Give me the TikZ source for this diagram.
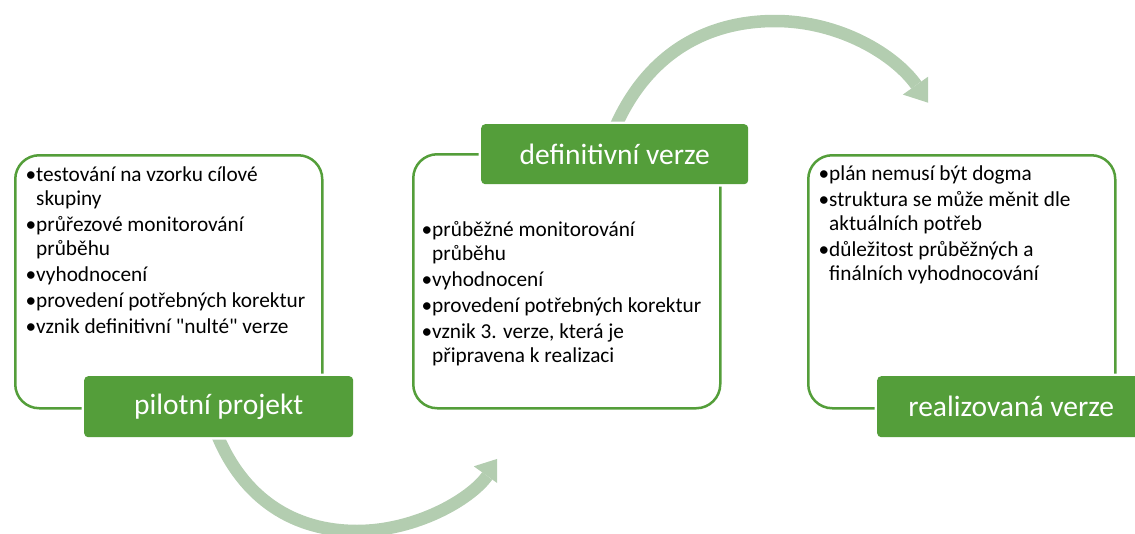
\documentclass[tikz,border=0pt]{standalone}
\usepackage{fontspec}
\setmainfont{Carlito}
\newfontfamily\qfont{Carlito}
\usetikzlibrary{arrows.meta}
\definecolor{grn}{RGB}{84,158,58}
\definecolor{lgrn}{RGB}{179,205,176}
\newcommand{\bul}{\makebox[7pt][l]{\hspace{-3.5pt}•}}
\newcommand{\sq}{{\qfont"}}
\begin{document}
\begin{tikzpicture}[x=1pt,y=-1pt,
  box/.style={draw=grn, line width=2.5pt, rounded corners=24pt, anchor=north west, inner sep=0pt},
  lab/.style={fill=grn, text=white, rounded corners=4pt, anchor=north west, inner sep=0pt,
    font=\fontsize{29.5}{35}\selectfont, preaction={draw=white, line width=5pt}},
  body/.style={anchor=north west, inner sep=0pt, font=\fontsize{21.3}{24}\selectfont, align=left},
  flow/.style={draw=lgrn, line width=12.5pt, -{Triangle[length=22pt,width=33pt,line width=0pt]}}]
\useasboundingbox (0,0) rectangle (1135,533);

% arrows (drawn first, labels cover their starts)
\coordinate (a1s) at (216,432);
\coordinate (a1e) at (500,458);
\coordinate (a2s) at (614,130);
\coordinate (a2e) at (929,103);
\begin{scope}
\clip (0,0) rectangle (497,533);
\draw[flow] (a1s) .. controls (243,500) and (295,531) .. (357,531) .. controls (415,531) and (470,500) .. (a1e);
\end{scope}
\begin{scope}
\clip (0,0) rectangle (928,533);
\draw[flow] (a2s) .. controls (646,55) and (705,21) .. (775,21) .. controls (840,21) and (895,55) .. (a2e);
\end{scope}

% boxes
\node[box, minimum width=307pt, minimum height=253pt] (box1) at (14,154) {};
\node[box, minimum width=307pt, minimum height=254pt] (box2) at (412,153) {};
\node[box, minimum width=307pt, minimum height=253pt] (box3) at (807,154) {};

% body texts
\node[body] (t1) at (29,164.2) {\begin{tabular}{@{}l@{}l@{}}
\bul & testování na vzorku cílové\\
 & skupiny\\[2pt]
\bul & průřezové monitorování\\
 & průběhu\\[2pt]
\bul & vyhodnocení\\[2pt]
\bul & provedení potřebných korektur\\[2pt]
\bul & vznik definitivní \sq nulté\sq{} verze
\end{tabular}};
\node[body] (t2) at (425,219.2) {\begin{tabular}{@{}l@{}l@{}}
\bul & průběžné monitorování\\
 & průběhu\\[2pt]
\bul & vyhodnocení\\[2pt]
\bul & provedení potřebných korektur\\[2pt]
\bul & vznik 3. verze, která je\\
 & připravena k realizaci
\end{tabular}};
\node[body] (t3) at (822,163.2) {\begin{tabular}{@{}l@{}l@{}}
\bul & plán nemusí být dogma\\[2pt]
\bul & struktura se může měnit dle\\
 & aktuálních potřeb\\[2pt]
\bul & důležitost průběžných a\\
 & finálních vyhodnocování
\end{tabular}};

% labels
\node[lab, minimum width=269pt, minimum height=61pt] (lab1) at (84,376) {pilotní projekt};
\node[lab, minimum width=267pt, minimum height=60pt] (lab2) at (481,124) {definitivní verze};
\node[lab, minimum width=268pt, minimum height=61pt] (lab3) at (877,376) {realizovaná verze};
\end{tikzpicture}
\end{document}
